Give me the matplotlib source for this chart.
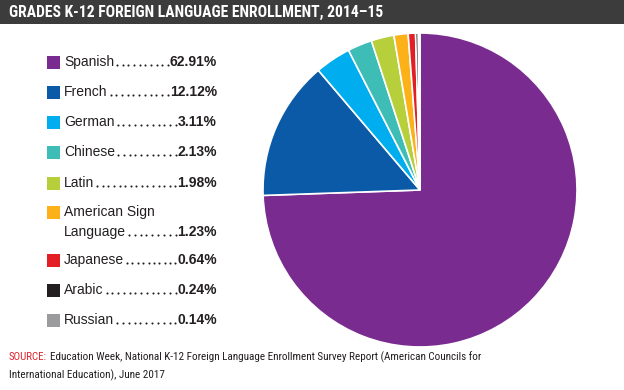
import matplotlib
matplotlib.use("Agg")
import matplotlib.pyplot as plt
import numpy as np
from matplotlib.patches import Rectangle
from matplotlib.lines import Line2D
from matplotlib import font_manager
from matplotlib.font_manager import FontProperties

languages = ["Spanish", "French", "German", "Chinese", "Latin",
             "American Sign\nLanguage", "Japanese", "Arabic", "Russian"]
shares = [62.91, 12.12, 3.11, 2.13, 1.98, 1.23, 0.64, 0.24, 0.14]
colors = ["#7a2b8f", "#0a5aa7", "#00aeef", "#3dbdb6", "#b6cf3a",
          "#fbb117", "#e31e25", "#231f20", "#9b9b9d"]

title = "GRADES K-12 FOREIGN LANGUAGE ENROLLMENT, 2014\u201315"
source_1 = "Education Week, National K-12 Foreign Language Enrollment Survey Report (American Councils for"
source_2 = "International Education), June 2017"

# look for a condensed / narrow face for the title and source note
files = [f.fname for f in font_manager.fontManager.ttflist]


def find_face(bold):
    for key in ["LiberationSansNarrow", "RobotoCondensed", "DejaVuSansCondensed", "Condensed", "Narrow"]:
        for fn in files:
            base = fn.split("/")[-1]
            if key in base and "Italic" not in base and "Oblique" not in base:
                if ("Bold" in base) == bold:
                    return FontProperties(fname=fn)
    return FontProperties(family="DejaVu Sans", weight="bold" if bold else "normal")


cond_bold = find_face(True)
cond_reg = find_face(False)

W, H = 624, 390
fig = plt.figure(figsize=(W / 100, H / 100), dpi=100)
fig.canvas.draw()
rend = fig.canvas.get_renderer()


def px(x, y):
    return x / W, 1 - y / H


def fit(t, width, size):
    # shrink/grow a text so it spans the given pixel width
    t.set_fontsize(size)
    w = t.get_window_extent(rend).width
    t.set_fontsize(size * width / w)


# title bar
fig.patches.append(Rectangle((0, 1 - 24 / H), 1, 24 / H, transform=fig.transFigure,
                             facecolor="#3c3c3c", edgecolor="none"))
t = fig.text(*px(9, 12.5), title, color="white", fontproperties=cond_bold.copy(),
             va="center", ha="left")
fit(t, 373, 13)

# pie
cx, cy, r = 420, 190, 157
ax = fig.add_axes([(cx - r) / W, (H - cy - r) / H, 2 * r / W, 2 * r / H])
ax.pie(shares, colors=colors, startangle=90, counterclock=False,
       wedgeprops=dict(edgecolor="white", linewidth=1.2))
ax.set_xlim(-1, 1)
ax.set_ylim(-1, 1)
ax.set_aspect("equal")
ax.axis("off")

# legend with dot leaders
row_y = [62, 92, 122, 152, 183, 222, 260, 290, 320]
x_box, x_lab, x_val = 47, 64, 217
lab_font = dict(fontsize=10, family="Liberation Sans", color="#231f20", va="center")

for name, val, col, y in zip(languages, shares, colors, row_y):
    lines = name.split("\n")
    two = len(lines) > 1
    ytop = y - (10 if two else 0)
    last_y = y + (10 if two else 0)
    fig.patches.append(Rectangle(px(x_box, ytop + 6.5), 13 / W, 13 / H,
                                 transform=fig.transFigure, facecolor=col, edgecolor="none"))
    if two:
        fig.text(*px(x_lab, ytop), lines[0], **lab_font)
    lab = fig.text(*px(x_lab, last_y), lines[-1], **lab_font)
    v = fig.text(*px(x_val, last_y), f"{val:.2f}%", fontweight="bold", ha="right", **lab_font)
    lw = lab.get_window_extent(rend).width
    vw = v.get_window_extent(rend).width
    x0, x1 = x_lab + lw + 3, x_val - vw - 2
    n = int(round((x1 - x0) / 5.6)) + 1
    xs = np.linspace(x0, x1, n)
    fig.add_artist(Line2D(xs / W, np.full(n, 1 - (last_y + 3.2) / H),
                          transform=fig.transFigure, linestyle="none", marker="o",
                          markersize=1.5, markeredgewidth=0, color="#231f20"))

# source note
s = fig.text(*px(9, 357), "SOURCE:", color="#e0222b", fontproperties=cond_reg.copy(), va="center")
fit(s, 38, 9)
s1 = fig.text(*px(50, 357), source_1, color="#231f20", fontproperties=cond_reg.copy(), va="center")
fit(s1, 432, 9)
s2 = fig.text(*px(9, 375), source_2, color="#231f20", fontproperties=cond_reg.copy(), va="center")
s2.set_fontsize(s1.get_fontsize())

fig.savefig("out.png", dpi=100)
